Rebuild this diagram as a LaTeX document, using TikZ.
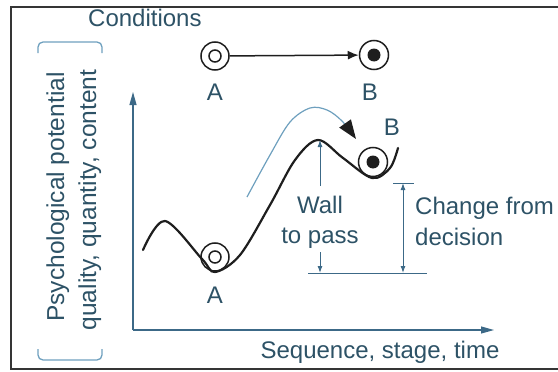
\documentclass[tikz,border=0pt]{standalone}
\usepackage{fontspec}
\setmainfont{Liberation Sans}
\usetikzlibrary{arrows.meta}
\definecolor{txt}{RGB}{45,82,102}
\definecolor{axiscol}{RGB}{60,105,135}
\definecolor{thincol}{RGB}{110,160,190}
\definecolor{curvecol}{RGB}{30,30,30}
\tikzset{
  lbl/.style={font=\fontsize{24}{30}\selectfont, text=txt, inner sep=0pt},
  ringA/.style={circle, draw=curvecol, line width=1.5pt, minimum size=28pt, inner sep=0pt,
    path picture={\draw[curvecol, line width=1.5pt] (path picture bounding box.center) circle (6pt);}},
  ringB/.style={circle, draw=curvecol, line width=1.5pt, minimum size=29pt, inner sep=0pt,
    path picture={\fill[curvecol] (path picture bounding box.center) circle (6.5pt);}},
  axisline/.style={axiscol, line width=1.2pt},
  bracket/.style={thincol, line width=1.3pt, rounded corners=5pt},
  dimline/.style={axiscol, line width=1pt}
}
\begin{document}
\begin{tikzpicture}[x=1pt,y=-1pt]
\useasboundingbox (0,0) rectangle (558,372);
% frame
\draw[curvecol!90, line width=2pt] (560,7) -- (11,7) -- (11,369) -- (560,369);

% conditions row
\node[lbl, anchor=base west] (cond) at (88,27) {Conditions};
\node[ringA] (ca) at (215,56) {};
\node[ringB] (cb) at (374,55) {};
\draw[curvecol, line width=1.5pt, -{Latex[length=11pt,width=9pt]}] (ca) -- (cb);
\node[lbl, anchor=base] (la1) at (215,100) {A};
\node[lbl, anchor=base] (lb1) at (370,100) {B};

% axes
\coordinate (o) at (133,330);
\coordinate (ytip) at (133,92);
\coordinate (xtip) at (494,330);
\draw[axisline, -{Triangle[length=13pt,width=7pt]}] (o) -- (ytip);
\draw[axisline, -{Triangle[length=13pt,width=7pt]}] (o) -- (xtip);
\node[lbl, anchor=base] (xl) at (380,358) {Sequence, stage, time};

% y label
\node[lbl, font=\fontsize{24.5}{30}\selectfont, rotate=90, anchor=base] (yl1) at (64,197) {Psychological potential};
\node[lbl, font=\fontsize{24.5}{30}\selectfont, rotate=90, anchor=base] (yl2) at (96,200) {quality, quantity, content};
\draw[bracket] (38,53) -- (38,42) -- (102,42) -- (102,53);
\draw[bracket] (38,349) -- (38,360) -- (102,360) -- (102,349);

% curve
\draw[curvecol, line width=2.2pt, line cap=round] plot[smooth, tension=0.55] coordinates {
 (143,250) (165,221) (202,259) (215,272) (240,255) (270,205) (295,160) (318,140)
 (343,158) (372,178) (390,168) (398,148)};
\node[ringA] (ca2) at (215,257) {};
\node[ringB] (cb2) at (373,162) {};
\node[lbl, anchor=base] (la2) at (215,303) {A};
\node[lbl, anchor=base] (lb2) at (392,135) {B};

% thin arrow
\draw[thincol, line width=1.2pt, -{Triangle[length=19pt,width=14pt,color=curvecol]}]
 plot[smooth, tension=0.55] coordinates {(247,197) (270,155) (290,122) (310,108) (327,110) (342,121) (356,139)};

% wall
\coordinate (peak) at (320,140);
\node[lbl, anchor=base] (wall1) at (320,213) {Wall};
\node[lbl, anchor=base] (wall2) at (320,243) {to pass};
\coordinate (wtop) at (320,186);
\coordinate (wbot) at (320,252);
\coordinate (wbase) at (320,273);
\draw[dimline, -{Latex[length=7pt,width=5pt]}] (wtop) -- (peak);
\draw[dimline, -{Latex[length=7pt,width=5pt]}] (wbot) -- (wbase);
\coordinate (bl) at (308,273);
\coordinate (br) at (427,273);
\draw[dimline] (bl) -- (br);

% change
\coordinate (ctop) at (403,183);
\coordinate (cbot) at (403,273);
\coordinate (tl) at (393,183);
\coordinate (tr) at (414,183);
\draw[dimline] (tl) -- (tr);
\draw[dimline, {Latex[length=7pt,width=5pt]}-{Latex[length=7pt,width=5pt]}] (ctop) -- (cbot);
\node[lbl, anchor=base west] (ch1) at (415,214) {Change from};
\node[lbl, anchor=base west] (ch2) at (415,245) {decision};
\end{tikzpicture}
\end{document}
